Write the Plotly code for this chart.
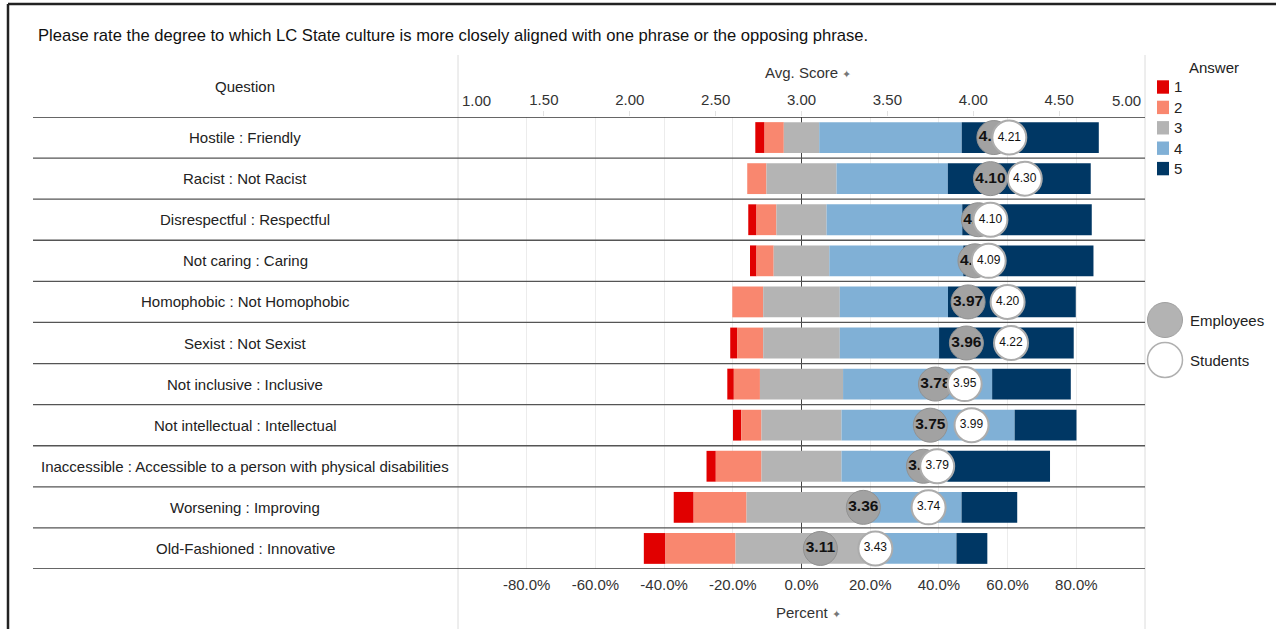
import plotly.graph_objects as go

# ---------------- data ----------------
questions = [
    "Hostile : Friendly",
    "Racist : Not Racist",
    "Disrespectful : Respectful",
    "Not caring : Caring",
    "Homophobic : Not Homophobic",
    "Sexist : Not Sexist",
    "Not inclusive : Inclusive",
    "Not intellectual : Intellectual",
    "Inaccessible : Accessible to a person with physical disabilities",
    "Worsening : Improving",
    "Old-Fashioned : Innovative",
]
answers = ["1", "2", "3", "4", "5"]
pct_1 = [2.7, 0.0, 2.4, 1.9, 0.0, 2.0, 1.9, 2.4, 2.7, 5.8, 6.3]
pct_2 = [5.6, 5.6, 5.8, 5.0, 9.0, 7.6, 7.6, 5.9, 13.3, 15.4, 20.4]
pct_3 = [10.3, 20.4, 14.6, 16.2, 22.3, 22.3, 24.2, 23.3, 23.3, 32.0, 38.4]
pct_4 = [41.5, 32.4, 39.5, 39.0, 31.5, 28.9, 43.4, 50.4, 30.8, 30.6, 25.9]
pct_5 = [39.9, 41.6, 37.7, 37.9, 37.2, 39.2, 22.9, 18.0, 29.9, 16.2, 9.0]
employees_avg = [4.12, 4.10, 4.03, 4.01, 3.97, 3.96, 3.78, 3.75, 3.71, 3.36, 3.11]
students_avg = [4.21, 4.30, 4.10, 4.09, 4.20, 4.22, 3.95, 3.99, 3.79, 3.74, 3.43]

pct_ticks = [-80, -60, -40, -20, 0, 20, 40, 60, 80]
pct_tick_labels = ["-80.0%", "-60.0%", "-40.0%", "-20.0%", "0.0%", "20.0%", "40.0%", "60.0%", "80.0%"]
score_ticks = [1.5, 2.0, 2.5, 3.0, 3.5, 4.0, 4.5]
score_tick_labels = ["1.50", "2.00", "2.50", "3.00", "3.50", "4.00", "4.50"]
score_min_label, score_max_label = "1.00", "5.00"

title_text = "Please rate the degree to which LC State culture is more closely aligned with one phrase or the opposing phrase."

# ---------------- style ----------------
W, H = 1276, 629
FONT = "Liberation Sans, Arial, sans-serif"
FS = 15
colors = ["#e10000", "#f9876f", "#b4b4b4", "#80b0d6", "#003764"]


def px(x):
    return x / W


def py(y):
    return 1 - y / H


fig = go.Figure()

# diverging stacked bars: neutral answer centred on zero
series = [pct_1, pct_2, pct_3, pct_4, pct_5]
bases = [[], [], [], [], []]
for i in range(len(questions)):
    half = pct_3[i] / 2
    bases[0].append(-(half + pct_2[i] + pct_1[i]))
    bases[1].append(-(half + pct_2[i]))
    bases[2].append(-half)
    bases[3].append(half)
    bases[4].append(half + pct_4[i])

for k in range(5):
    fig.add_trace(go.Bar(
        orientation="h", y=questions, x=series[k], base=bases[k],
        marker=dict(color=colors[k], line=dict(width=0)),
        width=0.75, xaxis="x", yaxis="y", showlegend=False,
        name=answers[k], hovertemplate="%{y}<br>" + answers[k] + ": %{x:.1f}%<extra></extra>",
    ))

fig.add_trace(go.Scatter(
    x=employees_avg, y=questions, xaxis="x2", yaxis="y", mode="markers+text",
    marker=dict(size=34, color="#a2a2a2", line=dict(width=1, color="#919191")),
    text=[f"{v:.2f}" for v in employees_avg], textposition="middle center",
    textfont=dict(family=FONT, size=15.5, color="#111", weight="bold"),
    name="Employees", showlegend=False, cliponaxis=False,
))
fig.add_trace(go.Scatter(
    x=students_avg, y=questions, xaxis="x2", yaxis="y", mode="markers+text",
    marker=dict(size=34, color="white", line=dict(width=2, color="#acacac")),
    text=[f"{v:.2f}" for v in students_avg], textposition="middle center",
    textfont=dict(family=FONT, size=12, color="#111"),
    name="Students", showlegend=False, cliponaxis=False,
))

shapes = []
annotations = []

# row separators (header line, between rows, bottom)
for j in range(len(questions) + 1):
    yv = j - 0.5
    shapes.append(dict(type="line", xref="paper", yref="y", x0=px(33), x1=px(1145),
                       y0=yv, y1=yv,
                       line=dict(color="#333" if j in (0, len(questions)) else "#555", width=1.3)))
# vertical dividers
for xv in (458, 1145):
    shapes.append(dict(type="line", xref="paper", yref="paper", x0=px(xv), x1=px(xv),
                       y0=py(55), y1=py(629), line=dict(color="#dcdcdc", width=1), layer="below"))
# outer frame (left + top)
shapes.append(dict(type="line", xref="paper", yref="paper", x0=px(8), x1=px(8), y0=py(4), y1=py(629),
                   line=dict(color="#222", width=2.5)))
shapes.append(dict(type="line", xref="paper", yref="paper", x0=px(8), x1=px(1276), y0=py(4), y1=py(4),
                   line=dict(color="#222", width=2.5)))

# question labels
for q in questions:
    annotations.append(dict(text=q, xref="paper", yref="y", x=px(245), y=q, xanchor="center",
                            yanchor="middle", showarrow=False, font=dict(family=FONT, size=FS, color="#222")))

annotations.append(dict(text=title_text, xref="paper", yref="paper", x=px(36), y=py(35), xanchor="left",
                        yanchor="middle", showarrow=False, font=dict(family=FONT, size=16.6, color="#111")))
annotations.append(dict(text="Question", xref="paper", yref="paper", x=px(245), y=py(86), xanchor="center",
                        yanchor="middle", showarrow=False, font=dict(family=FONT, size=FS, color="#222")))
annotations.append(dict(text="Avg. Score <span style='color:#777;font-size:11px'>✦</span>", xref="paper",
                        yref="paper", x=px(808), y=py(72), xanchor="center", yanchor="middle", showarrow=False,
                        font=dict(family=FONT, size=FS, color="#333")))
annotations.append(dict(text="Percent <span style='color:#777;font-size:11px'>✦</span>", xref="paper",
                        yref="paper", x=px(808), y=py(612), xanchor="center", yanchor="middle", showarrow=False,
                        font=dict(family=FONT, size=FS, color="#333")))
# edge labels of score axis kept inside the pane
annotations.append(dict(text=score_min_label, xref="x2", yref="paper", x=1.0, y=py(100), xanchor="left",
                        yanchor="middle", showarrow=False, xshift=2, font=dict(family=FONT, size=FS, color="#333")))
annotations.append(dict(text=score_max_label, xref="x2", yref="paper", x=5.0, y=py(100), xanchor="right",
                        yanchor="middle", showarrow=False, xshift=-2, font=dict(family=FONT, size=FS, color="#333")))

# custom legend
annotations.append(dict(text="Answer", xref="paper", yref="paper", x=px(1214), y=py(67), xanchor="center",
                        yanchor="middle", showarrow=False, font=dict(family=FONT, size=FS, color="#222")))
for k in range(5):
    yc = 87 + 20.4 * k
    shapes.append(dict(type="rect", xref="paper", yref="paper", x0=px(1157), x1=px(1169),
                       y0=py(yc - 6.7), y1=py(yc + 6.7), fillcolor=colors[k], line=dict(width=0)))
    annotations.append(dict(text=answers[k], xref="paper", yref="paper", x=px(1172), y=py(yc), xanchor="left",
                            yanchor="middle", showarrow=False, font=dict(family=FONT, size=FS, color="#222")))
shapes.append(dict(type="circle", xref="paper", yref="paper", x0=px(1147.5), x1=px(1182.5), y0=py(302.5),
                   y1=py(337.5), fillcolor="#b3b3b3", line=dict(color="#a0a0a0", width=1)))
shapes.append(dict(type="circle", xref="paper", yref="paper", x0=px(1147.5), x1=px(1182.5), y0=py(342.5),
                   y1=py(377.5), fillcolor="white", line=dict(color="#b0b0b0", width=1.5)))
annotations.append(dict(text="Employees", xref="paper", yref="paper", x=px(1188), y=py(320), xanchor="left",
                        yanchor="middle", showarrow=False, font=dict(family=FONT, size=FS, color="#222")))
annotations.append(dict(text="Students", xref="paper", yref="paper", x=px(1188), y=py(360), xanchor="left",
                        yanchor="middle", showarrow=False, font=dict(family=FONT, size=FS, color="#222")))

fig.update_layout(
    width=W, height=H, margin=dict(l=0, r=0, t=0, b=0),
    paper_bgcolor="white", plot_bgcolor="white",
    barmode="overlay", showlegend=False,
    font=dict(family=FONT, color="#333"),
    xaxis=dict(domain=[px(458), px(1145)], range=[-100, 100], tickvals=pct_ticks, ticktext=pct_tick_labels,
               showgrid=True, gridcolor="#ececec", gridwidth=1, zeroline=True, zerolinecolor="#444",
               zerolinewidth=1, ticks="outside", ticklen=2, tickcolor="rgba(0,0,0,0)",
               tickfont=dict(family=FONT, size=FS, color="#333"), showline=False, fixedrange=True),
    xaxis2=dict(domain=[px(458), px(1145)], range=[1, 5], overlaying="x", anchor="y", side="top",
                tickvals=score_ticks, ticktext=score_tick_labels, showgrid=False, zeroline=False,
                ticks="outside", ticklen=5, tickcolor="#e2e2e2",
                tickfont=dict(family=FONT, size=FS, color="#333"), showline=False, fixedrange=True),
    yaxis=dict(domain=[py(569), py(117)], type="category", categoryorder="array", categoryarray=questions,
               range=[len(questions) - 0.5, -0.5], showticklabels=False, showgrid=False, zeroline=False,
               fixedrange=True),
    shapes=shapes, annotations=annotations,
)

fig.write_html("out.html", config={"displayModeBar": False},
               post_script="document.body.style.margin='0';document.body.style.overflow='hidden';")
